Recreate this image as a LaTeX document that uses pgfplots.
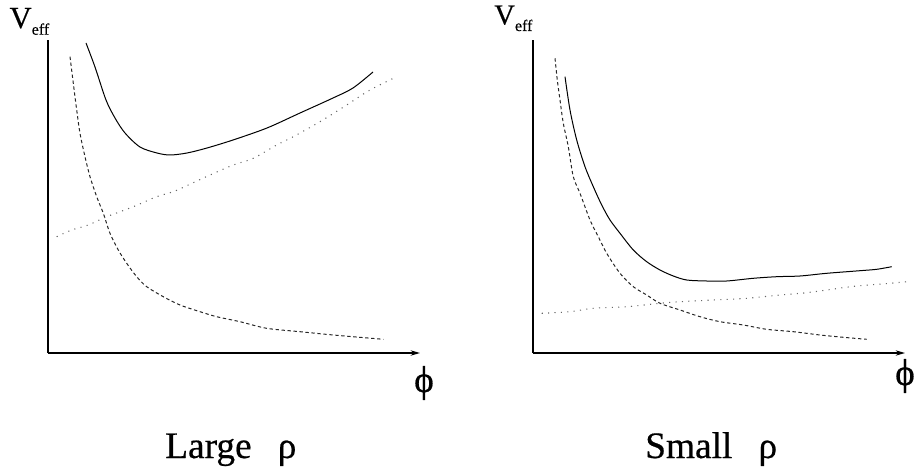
\documentclass[border=0pt]{standalone}
\usepackage{fontspec}
\setmainfont{Liberation Serif}
\newfontfamily\labelfont{Liberation Serif}[FakeBold=0.5]
\usepackage{pgfplots}
\pgfplotsset{compat=1.18}
\usetikzlibrary{arrows.meta}

% effective potential sketches: total (solid), repulsive part (dashed), rising part (dotted)
\pgfplotsset{
  veff/.style={
    scale only axis, width=279pt, height=234.75pt,
    xmin=0, xmax=372, ymin=0, ymax=313,
    axis lines=left,
    axis line style={line width=1.1pt},
    x axis line style={-{Stealth[length=7pt,width=4pt]}},
    y axis line style={-},
    xtick=\empty, ytick=\empty,
    clip=false, anchor=south west,
  },
  total/.style={black, line width=0.75pt, smooth},
  repul/.style={black!85, line width=0.75pt, smooth, dash pattern=on 2.5pt off 2pt},
  rising/.style={black!60, line width=0.8pt, smooth, dash pattern=on 0.8pt off 4pt},
}

\begin{document}
\begin{tikzpicture}[every node/.style={font=\labelfont}]
\path (0,0) rectangle (690pt,356.25pt);

% ---------- Large rho ----------
\begin{axis}[veff, at={(36pt,91.5pt)}]
\addplot[total] coordinates {
 (38,310) (47,286) (58,253) (67,235) (77,220) (92,206) (109,200) (122,198)
 (139,200) (159,205) (185,213) (219,225) (252,240) (285,255) (305,265) (325,281)};
\addplot[repul] coordinates {
 (22,296.3) (25.3,269.7) (28.7,243) (32,219.7) (37,196.3) (42,176.3) (48.7,156.3)
 (55.3,139.7) (62,119.7) (70.3,103) (78.7,89.7) (88.7,76.3) (98.7,66.3) (115.3,56.3)
 (132,48) (152,41.3) (168.7,36.3) (192,31.3) (218.7,24.7) (252,21.3) (285.3,18) (335.3,13.7)};
\addplot[rising] coordinates {
 (8.7,116.3) (23.7,123) (40.3,128) (58.7,136.3) (85.3,146.3) (108.7,156.3) (125.3,161.3)
 (140.3,168) (162,178) (185.3,188) (205.3,194.7) (228.7,208) (245.3,216.3) (272,231.3)
 (298.7,248) (322,263) (348.7,276.3)};
\end{axis}

% ---------- Small rho ----------
\begin{axis}[veff, at={(399.75pt,91.5pt)}]
\addplot[total] coordinates {
 (32,276.3) (37,243) (43.7,213) (52,186.3) (60.3,166.3) (68.7,148) (77,133) (87,119.7)
 (100.3,103) (113.7,91.3) (127,83) (140.3,77) (153.7,73) (173.7,72) (193.7,72)
 (220.3,74.7) (243.7,76.3) (267,77) (293.7,79.7) (327,82.3) (343.7,83.7) (358.7,86.3)};
\addplot[repul] coordinates {
 (22,294.7) (24.3,273) (27,253) (30.3,229.7) (35.3,206.3) (40.3,176.3) (47,159.7)
 (57,133) (65.3,116.3) (73.7,99.7) (87,79.7) (100.3,66.3) (113.7,58) (127,49.7)
 (147,43) (167,36.3) (187,31.3) (210.3,28) (233.7,23.7) (260.3,21.3) (287,18)
 (310.3,15.7) (333.7,13.7)};
\addplot[rising] coordinates {
 (8.7,39.7) (37,41.3) (60.3,44.7) (93.7,46.3) (127,49.7) (147,51.3) (180.3,53)
 (213.7,54.7) (247,58) (273.7,60.3) (293.7,63) (323.7,67) (357,69.7) (373.7,71.3)};
\end{axis}

% axis names
\node[anchor=base west, inner sep=0] at (7pt,335.25pt)
  {\fontsize{23}{23}\selectfont V\raisebox{-5pt}{\fontsize{12}{12}\selectfont eff}};
\node[anchor=base west, inner sep=0] at (370.5pt,338pt)
  {\fontsize{21.5}{21.5}\selectfont V\raisebox{-5pt}{\fontsize{12}{12}\selectfont eff}};
\node[inner sep=0] at (318pt,69pt) {\fontsize{28}{28}\selectfont ϕ};
\node[inner sep=0] at (678.75pt,74.25pt) {\fontsize{28}{28}\selectfont ϕ};

% panel captions
\node[anchor=base west, inner sep=0] at (123.75pt,12.75pt)
  {\fontsize{28}{28}\selectfont Large\hspace{0.7em}ρ};
\node[anchor=base west, inner sep=0] at (483.75pt,12.75pt)
  {\fontsize{28}{28}\selectfont Small\hspace{0.7em}ρ};
\end{tikzpicture}
\end{document}
